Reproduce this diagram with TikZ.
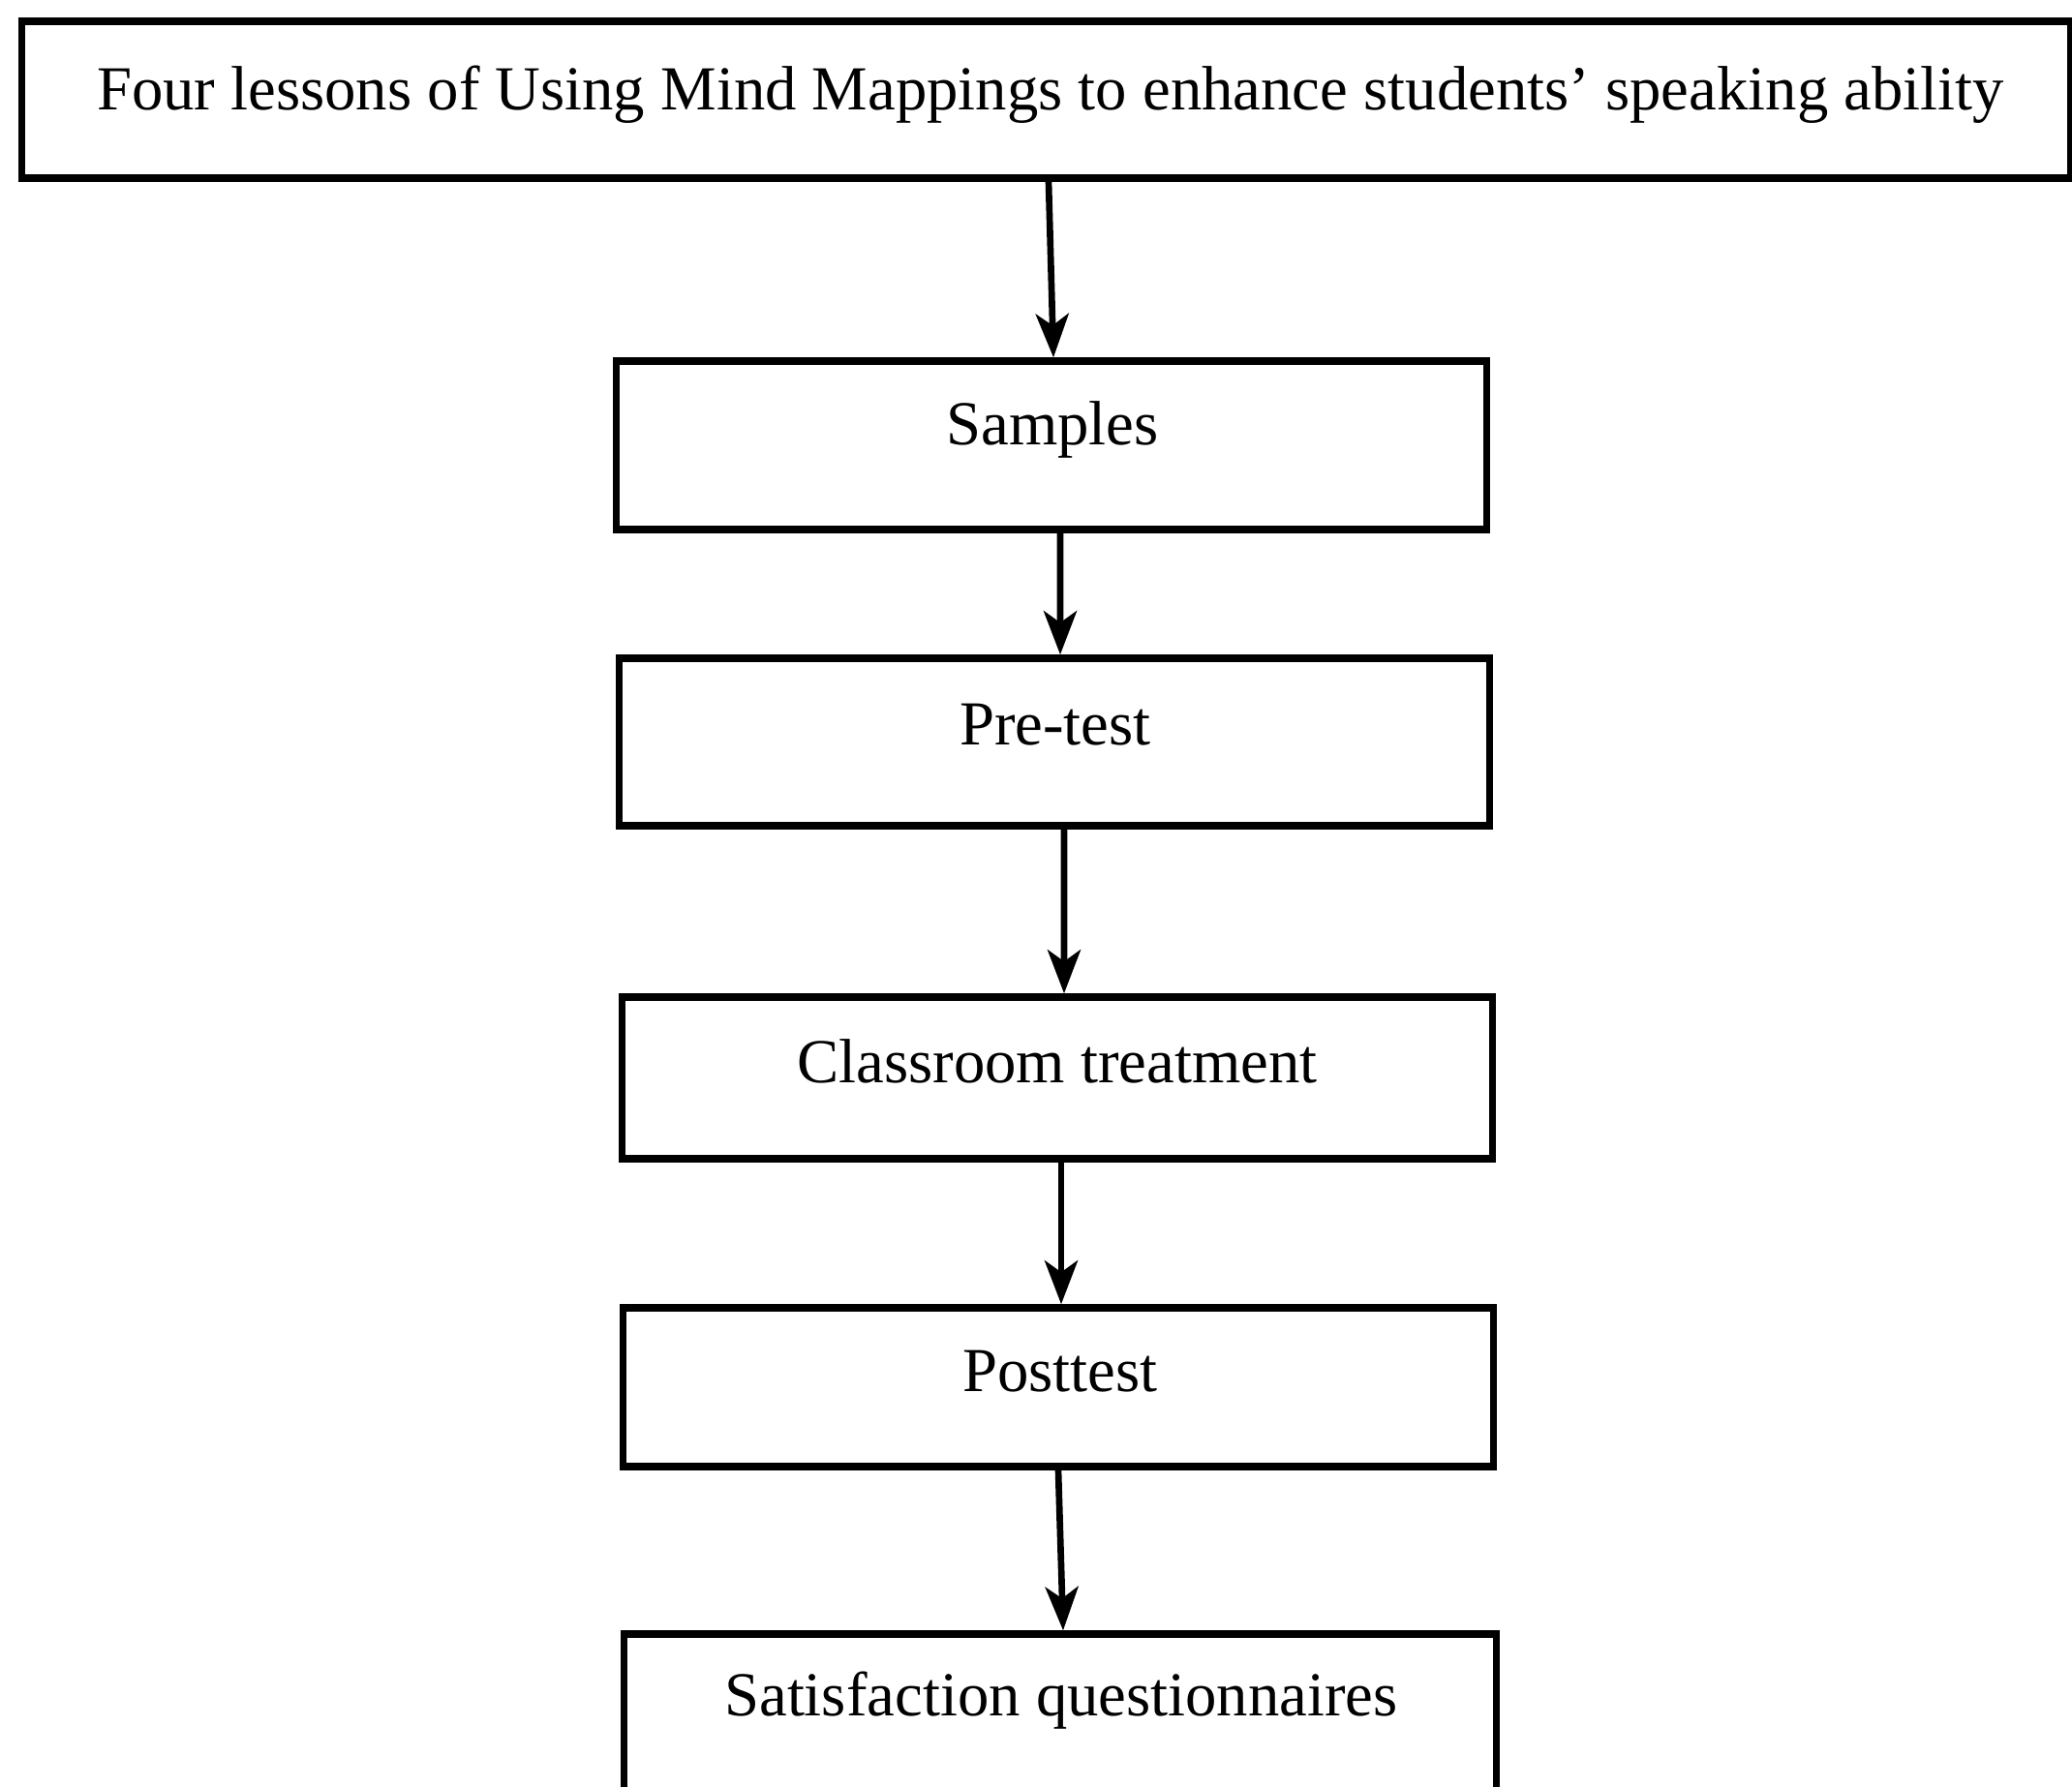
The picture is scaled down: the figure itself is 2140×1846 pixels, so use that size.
\documentclass[tikz,border=0pt]{standalone}
\usepackage{fontspec}
\setmainfont{Liberation Serif}
\usetikzlibrary{arrows.meta}
\begin{document}
\begin{tikzpicture}[x=0.01cm,y=-0.01cm,
  boxnode/.style={draw, line width=2.1pt, inner sep=0pt},
  txt/.style={anchor=base, inner sep=0pt, font=\fontsize{18.4pt}{22pt}\selectfont},
  arr/.style={line width=1.9pt, -{Stealth[length=0.45cm, width=0.34cm, inset=0.12cm]}}]
\clip (0,0) rectangle (2140,1846);
\useasboundingbox (0,0) rectangle (2140,1846);
% boxes
\node[boxnode, minimum width=21.15cm, minimum height=1.62cm] (top) at (1080.5,103) {};
\node[boxnode, minimum width=8.98cm, minimum height=1.74cm] (samples) at (1086,460) {};
\node[boxnode, minimum width=8.98cm, minimum height=1.73cm] (pretest) at (1089,766.5) {};
\node[boxnode, minimum width=8.98cm, minimum height=1.67cm] (classroom) at (1092,1113.5) {};
\node[boxnode, minimum width=8.98cm, minimum height=1.64cm] (posttest) at (1093,1433) {};
\node[boxnode, minimum width=9.0cm, minimum height=1.84cm] (satisf) at (1095,1780) {};
% texts
\node[txt] (topT) at (1085,114) {Four lessons of Using Mind Mappings to enhance students’ speaking ability};
\node[txt] (samplesT) at (1087,460) {Samples};
\node[txt] (pretestT) at (1090,769) {Pre-test};
\node[txt] (classroomT) at (1092,1118) {Classroom treatment};
\node[txt] (posttestT) at (1095,1437) {Posttest};
\node[txt] (satisfT) at (1096,1772) {Satisfaction questionnaires};
% arrows
\draw[arr] ([xshift=0.025cm]top.south) -- ([xshift=0.02cm]samples.north);
\draw[arr] ([xshift=0.09cm]samples.south) -- ([xshift=0.06cm]pretest.north);
\draw[arr] ([xshift=0.1cm]pretest.south) -- ([xshift=0.07cm]classroom.north);
\draw[arr] ([xshift=0.04cm]classroom.south) -- ([xshift=0.03cm]posttest.north);
\draw[arr] (posttest.south) -- ([xshift=0.03cm]satisf.north);
\end{tikzpicture}
\end{document}
